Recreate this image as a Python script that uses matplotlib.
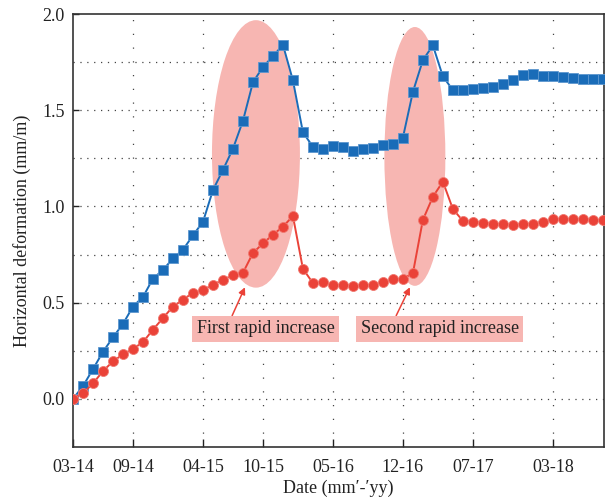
import matplotlib
matplotlib.use("Agg")
import matplotlib.pyplot as plt
from matplotlib.patches import Ellipse
import numpy as np

plt.rcParams['font.family'] = ['Liberation Serif', 'DejaVu Serif']

# month index from 03-2014
tick_pos = [0, 6, 13, 19, 26, 33, 40, 48]
tick_labels = ["03-14", "09-14", "04-15", "10-15", "05-16", "12-16", "07-17", "03-18"]

blue = [0.0, 0.067, 0.155, 0.245, 0.32, 0.39, 0.48, 0.53, 0.625, 0.67,
        0.73, 0.775, 0.85, 0.92, 1.085, 1.19, 1.30, 1.445, 1.645, 1.725,
        1.78, 1.84, 1.655, 1.385, 1.31, 1.30, 1.313, 1.31, 1.29, 1.297,
        1.304, 1.318, 1.325, 1.357, 1.595, 1.76, 1.837, 1.676, 1.605, 1.607,
        1.61, 1.614, 1.622, 1.636, 1.657, 1.685, 1.688, 1.676, 1.68, 1.673,
        1.67, 1.662, 1.662, 1.662]
red = [0.0, 0.03, 0.08, 0.145, 0.195, 0.232, 0.26, 0.295, 0.36, 0.42,
       0.48, 0.515, 0.552, 0.565, 0.594, 0.618, 0.644, 0.655, 0.758, 0.808,
       0.853, 0.895, 0.95, 0.676, 0.602, 0.606, 0.592, 0.592, 0.587, 0.59,
       0.594, 0.606, 0.621, 0.625, 0.652, 0.93, 1.05, 1.129, 0.987, 0.925,
       0.92, 0.916, 0.91, 0.907, 0.904, 0.91, 0.91, 0.92, 0.933, 0.933,
       0.933, 0.933, 0.93, 0.93]
months = np.arange(len(blue))

BLUE = '#1a6cb8'
RED = '#ea4238'
PINK = '#f7b6b2'

fig = plt.figure(figsize=(6.05, 5.04), dpi=100)
ax = fig.add_axes([0.1207, 0.1131, 0.8773, 0.8591])

# highlight ellipses (annotation shapes)
ax.add_patch(Ellipse((18.3, 1.273), 8.8, 1.39, facecolor=PINK, edgecolor='none', zorder=1))
ax.add_patch(Ellipse((34.2, 1.26), 6.1, 1.345, facecolor=PINK, edgecolor='none', zorder=1))

ax.plot(months, blue, color=BLUE, lw=1.4, marker='s', ms=6.5,
        mfc=BLUE, mec='#5d97cf', mew=0.6, zorder=3)
ax.plot(months, red, color=RED, lw=1.4, marker='o', ms=7.2,
        mfc=RED, mec='#f07a72', mew=0.6, zorder=3)

ax.set_xlim(0, 53.1)
ax.set_ylim(-0.25, 2.0)
ax.set_xticks(tick_pos)
ax.set_xticklabels(tick_labels)
ax.set_yticks([0.0, 0.5, 1.0, 1.5, 2.0])
ax.set_yticklabels(["0.0", "0.5", "1.0", "1.5", "2.0"])

# grid
for v in [0.0, 0.25, 0.5, 0.75, 1.0, 1.25, 1.5, 1.75]:
    ax.axhline(v, color='#444444', lw=0.9, ls=(0, (1, 4.5)), zorder=0.5)
for t in tick_pos[1:]:
    ax.axvline(t, color='#444444', lw=0.9, ls=(0, (1, 10)), zorder=0.5)

ax.tick_params(axis='x', direction='in', length=6, width=1, pad=9,
               labelsize=13, colors='#222222')
ax.tick_params(axis='y', direction='in', length=4, width=1, pad=6,
               labelsize=13, colors='#222222')
for s in ax.spines.values():
    s.set_color('#333333')
    s.set_linewidth(1.2)

ax.set_xlabel("Date (mm\u2032-\u2032yy)", fontsize=13, labelpad=2, color='#222222')
ax.set_ylabel("Horizontal deformation (mm/m)", fontsize=13, labelpad=8, color='#222222')

box = dict(boxstyle='square,pad=0.25', facecolor=PINK, edgecolor='none')
ax.annotate("First rapid increase", xy=(17.2, 0.58), xytext=(19.3, 0.365),
            ha='center', va='center', fontsize=13, color='#222222', bbox=box,
            arrowprops=dict(arrowstyle='-|>', color=RED, lw=1.1,
                            mutation_scale=10, shrinkA=0, shrinkB=0,
                            relpos=(0.24, 1.0)), zorder=4)
ax.annotate("Second rapid increase", xy=(33.7, 0.58), xytext=(36.7, 0.365),
            ha='center', va='center', fontsize=13, color='#222222', bbox=box,
            arrowprops=dict(arrowstyle='-|>', color=RED, lw=1.1,
                            mutation_scale=10, shrinkA=0, shrinkB=0,
                            relpos=(0.21, 1.0)), zorder=4)

fig.savefig("out.png", dpi=100)
